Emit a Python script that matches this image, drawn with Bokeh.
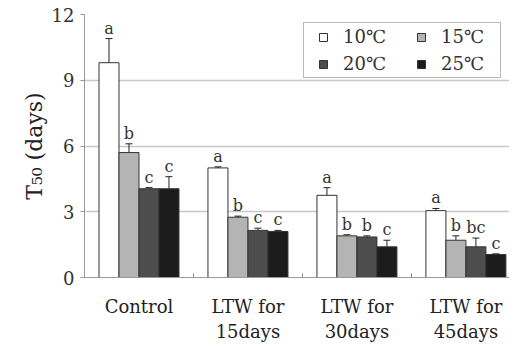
from bokeh.plotting import figure
from bokeh.models import ColumnDataSource, Whisker, FixedTicker, Legend, LegendItem, Range1d
from bokeh.embed import file_html
from bokeh.resources import INLINE
from bokeh.core.properties import value

groups = ["Control", "LTW for\n15days", "LTW for\n30days", "LTW for\n45days"]
temps = ["10℃", "15℃", "20℃", "25℃"]
means = {
    "10℃": [9.8, 5.0, 3.75, 3.05],
    "15℃": [5.7, 2.75, 1.9, 1.7],
    "20℃": [4.05, 2.15, 1.85, 1.4],
    "25℃": [4.05, 2.1, 1.4, 1.05],
}
errs = {
    "10℃": [1.1, 0.05, 0.35, 0.1],
    "15℃": [0.4, 0.05, 0.05, 0.2],
    "20℃": [0.05, 0.1, 0.05, 0.4],
    "25℃": [0.55, 0.05, 0.3, 0.03],
}
letters = {
    "10℃": ["a", "a", "a", "a"],
    "15℃": ["b", "b", "b", "b"],
    "20℃": ["c", "c", "b", "bc"],
    "25℃": ["c", "c", "c", "c"],
}
y_ticks = [0, 3, 6, 9, 12]
colors = ["#ffffff", "#b4b4b4", "#4d4d4d", "#1c1c1c"]

FONT = "DejaVu Serif"
W = 0.1835

p = figure(width=509, height=344, output_backend="svg", toolbar_location=None,
           x_range=Range1d(0, 3.9), y_range=Range1d(0, 12),
           min_border_left=84, min_border_top=14, min_border_right=0, min_border_bottom=0)
p.outline_line_color = None
p.background_fill_color = "white"

swatches = {}
for j, t in enumerate(temps):
    xs = [i + 0.5 + (j - 1.5) * W for i in range(len(groups))]
    m = means[t]
    e = errs[t]
    src = ColumnDataSource(dict(x=xs, top=m, upper=[a + b for a, b in zip(m, e)],
                                lower=[a - b for a, b in zip(m, e)], lab=letters[t]))
    p.vbar(x="x", top="top", bottom=0, width=W, source=src,
           fill_color=colors[j], line_color="#333333", line_width=1)
    # legend-only swatch (no data drawn)
    swatches[t] = p.scatter(x=[float("nan")], y=[float("nan")], marker="square",
                            size=9, fill_color=colors[j], line_color="#333333", line_width=1)
    wh = Whisker(base="x", upper="upper", lower="lower", source=src,
                 line_color="#222222", line_width=1)
    wh.upper_head.size = 7
    wh.lower_head.size = 7
    wh.upper_head.line_color = "#222222"
    wh.lower_head.line_color = "#222222"
    p.add_layout(wh)
    p.text(x="x", y="upper", text="lab", source=src, text_align="center",
           text_baseline="bottom", y_offset=-1, text_font=value(FONT),
           text_font_size="16px", text_color="#333333")

# legend fills column-first: order so rows read 10,15 / 20,25
items = [LegendItem(label=t, renderers=[swatches[t]]) for t in ["10℃", "20℃", "15℃", "25℃"]]

# axes
p.xaxis.ticker = FixedTicker(ticks=[0.5, 1.5, 2.5, 3.5], minor_ticks=[0, 1, 2, 3])
p.xaxis.major_label_overrides = {0.5: groups[0], 1.5: groups[1], 2.5: groups[2], 3.5: groups[3]}
p.xaxis.major_tick_line_color = None
p.xaxis.minor_tick_in = 4
p.xaxis.minor_tick_out = 0
p.xaxis.minor_tick_line_color = "#888888"
p.xaxis.axis_line_color = "#999999"
p.xaxis.major_label_text_font = FONT
p.xaxis.major_label_text_font_size = "18px"
p.xaxis.major_label_text_color = "#222222"
p.xaxis.major_label_standoff = 12

p.yaxis.ticker = FixedTicker(ticks=y_ticks)
p.yaxis.axis_line_color = "#999999"
p.yaxis.major_tick_line_color = "#999999"
p.yaxis.major_tick_in = 0
p.yaxis.major_tick_out = 4
p.yaxis.minor_tick_line_color = None
p.yaxis.major_label_text_font = FONT
p.yaxis.major_label_text_font_size = "18px"
p.yaxis.major_label_text_color = "#333333"
p.yaxis.major_label_standoff = 6
p.yaxis.axis_label = "T₅₀ (days)"
p.yaxis.axis_label_text_font = FONT
p.yaxis.axis_label_text_font_size = "22px"
p.yaxis.axis_label_text_font_style = "normal"
p.yaxis.axis_label_text_color = "#222222"
p.yaxis.axis_label_standoff = 2

p.xgrid.grid_line_color = None
p.ygrid.grid_line_color = "#c8c8c8"
p.ygrid.grid_line_width = 1.5

legend = Legend(items=items, ncols=2, location="top_right")
legend.margin = 8
legend.padding = 3
legend.spacing = 6
legend.label_width = 56
legend.label_standoff = 4
legend.glyph_width = 32
legend.glyph_height = 20
legend.label_text_font = FONT
legend.label_text_font_size = "18px"
legend.label_text_color = "#333333"
legend.border_line_color = "#777777"
legend.border_line_width = 1.5
legend.background_fill_alpha = 1
p.add_layout(legend)

open("out.html", "w").write(file_html(p, INLINE))
